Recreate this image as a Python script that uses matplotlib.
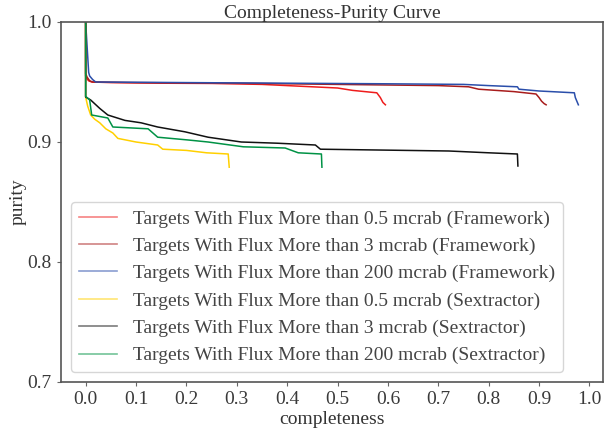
import matplotlib
matplotlib.use("Agg")
import matplotlib.pyplot as plt
from matplotlib.lines import Line2D

plt.rcParams['font.family'] = ['Liberation Serif', 'DejaVu Serif']

# completeness / purity samples for each detection method and flux threshold
fw_05_c = [0.0, 0.0, 0.002, 0.006, 0.012, 0.05, 0.15, 0.25, 0.35, 0.40, 0.45, 0.50, 0.53, 0.578, 0.585, 0.59, 0.595]
fw_05_p = [1.0, 0.955, 0.953, 0.951, 0.950, 0.9495, 0.949, 0.9488, 0.948, 0.947, 0.946, 0.945, 0.943, 0.941, 0.937, 0.933, 0.931]

fw_3_c = [0.0, 0.0, 0.003, 0.008, 0.014, 0.10, 0.30, 0.50, 0.70, 0.76, 0.78, 0.85, 0.894, 0.90, 0.905, 0.91, 0.914]
fw_3_p = [1.0, 0.957, 0.954, 0.951, 0.950, 0.9495, 0.949, 0.948, 0.947, 0.946, 0.944, 0.942, 0.940, 0.937, 0.934, 0.932, 0.931]

fw_200_c = [0.0, 0.006, 0.008, 0.014, 0.02, 0.20, 0.40, 0.60, 0.75, 0.80, 0.857, 0.86, 0.90, 0.97, 0.972, 0.975, 0.978]
fw_200_p = [1.0, 0.958, 0.955, 0.952, 0.950, 0.9495, 0.949, 0.9485, 0.948, 0.947, 0.946, 0.944, 0.9425, 0.941, 0.937, 0.934, 0.931]

sx_05_c = [0.0, 0.0, 0.004, 0.010, 0.018, 0.028, 0.04, 0.054, 0.064, 0.10, 0.143, 0.153, 0.20, 0.24, 0.283, 0.285]
sx_05_p = [1.0, 0.9375, 0.930, 0.9225, 0.919, 0.916, 0.911, 0.9075, 0.903, 0.900, 0.8975, 0.894, 0.893, 0.891, 0.890, 0.879]

sx_3_c = [0.0, 0.0, 0.01, 0.028, 0.044, 0.078, 0.11, 0.143, 0.197, 0.243, 0.309, 0.38, 0.456, 0.466, 0.55, 0.721, 0.80, 0.857, 0.858]
sx_3_p = [1.0, 0.9375, 0.935, 0.928, 0.9225, 0.918, 0.916, 0.9125, 0.9085, 0.904, 0.900, 0.899, 0.8975, 0.894, 0.8935, 0.8925, 0.891, 0.890, 0.880]

sx_200_c = [0.0, 0.0, 0.008, 0.012, 0.044, 0.054, 0.124, 0.143, 0.203, 0.243, 0.313, 0.396, 0.422, 0.468, 0.469]
sx_200_p = [1.0, 0.938, 0.935, 0.9225, 0.920, 0.9125, 0.911, 0.904, 0.9017, 0.900, 0.896, 0.895, 0.891, 0.890, 0.879]

labels = [
    "Targets With Flux More than 0.5 mcrab (Framework)",
    "Targets With Flux More than 3 mcrab (Framework)",
    "Targets With Flux More than 200 mcrab (Framework)",
    "Targets With Flux More than 0.5 mcrab (Sextractor)",
    "Targets With Flux More than 3 mcrab (Sextractor)",
    "Targets With Flux More than 200 mcrab (Sextractor)",
]
colors = ["#ee1c1c", "#a81c1c", "#2a4eaa", "#ffd000", "#111111", "#009245"]
series = [
    (fw_05_c, fw_05_p), (fw_3_c, fw_3_p), (fw_200_c, fw_200_p),
    (sx_05_c, sx_05_p), (sx_3_c, sx_3_p), (sx_200_c, sx_200_p),
]

fig = plt.figure(figsize=(6.04, 4.30), dpi=100)
ax = fig.add_axes([61 / 604, (430 - 382) / 430, (603 - 61) / 604, (382 - 22) / 430])

for (c, p), col in zip(series, colors):
    ax.plot(c, p, color=col, lw=1.1)

ax.set_ylim(0.7, 1.0)
ax.set_yticks([0.7, 0.8, 0.9, 1.0])
ax.set_xticks([i / 10 for i in range(11)])
ax.xaxis.set_major_formatter(matplotlib.ticker.FormatStrFormatter('%.1f'))
ax.yaxis.set_major_formatter(matplotlib.ticker.FormatStrFormatter('%.1f'))
ax.tick_params(labelsize=14, length=3, color='#666666', labelcolor='#3a3a3a')
for s in ax.spines.values():
    s.set_color('#555555')
    s.set_linewidth(1.2)

ax.set_xlabel("completeness", fontsize=14, color='#333333', labelpad=2)
ax.set_ylabel("purity", fontsize=14, color='#333333', labelpad=1)
ax.set_title("Completeness-Purity Curve", fontsize=14, color='#333333', pad=3)

handles = [Line2D([], [], color=col, lw=1.2, alpha=0.55) for col in colors]
leg = ax.legend(handles, labels, loc='lower left', fontsize=14, frameon=True,
                labelcolor='#444444', borderaxespad=0.5)
leg.get_frame().set_edgecolor('#cccccc')

fig.savefig("out.png", dpi=100)
